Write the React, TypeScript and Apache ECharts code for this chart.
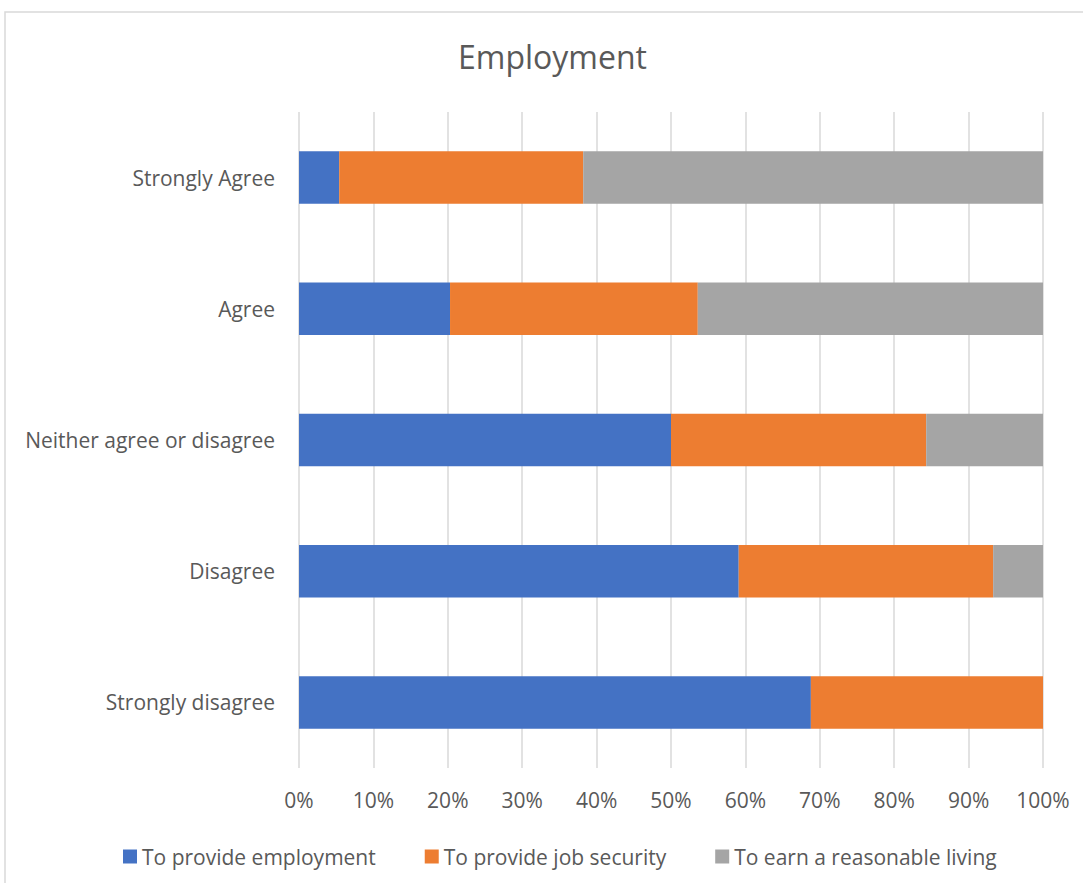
import React, { useEffect, useRef } from "react";
import * as echarts from "echarts";

const categories = ["Strongly disagree", "Disagree", "Neither agree or disagree", "Agree", "Strongly Agree"];
const provideEmployment = [68.8, 59.1, 50.0, 20.3, 5.4];
const provideJobSecurity = [31.2, 34.2, 34.3, 33.3, 32.8];
const earnLiving = [0, 6.7, 15.7, 46.4, 61.8];
const seriesNames = ["To provide employment", "To provide job security", "To earn a reasonable living"];
const colors = ["#4472C4", "#ED7D31", "#A5A5A5"];

const FONT = "Open Sans";
const TXT = "#595959";

export default function App() {
  const ref = useRef<HTMLDivElement>(null);
  useEffect(() => {
    if (!ref.current) return;
    const chart = echarts.init(ref.current, undefined, { renderer: "svg" });
    const values = [provideEmployment, provideJobSecurity, earnLiving];
    chart.setOption({
      animation: false,
      backgroundColor: "#fff",
      title: {
        text: "Employment",
        left: 458,
        top: 40,
        padding: 0,
        textStyle: { fontFamily: FONT, fontSize: 32, fontWeight: "normal", color: TXT },
      },
      graphic: [
        {
          type: "rect",
          shape: { x: 5, y: 12, width: 1200, height: 1000 },
          style: { fill: "none", stroke: "#d9d9d9", lineWidth: 1.5 },
          silent: true,
        },
      ],
      legend: {
        left: 123,
        top: 846,
        padding: 0,
        itemWidth: 14,
        itemHeight: 14,
        itemGap: 49,
        icon: "rect",
        textStyle: { fontFamily: FONT, fontSize: 21, color: TXT },
        data: seriesNames,
      },
      grid: { left: 299, right: 40, top: 112, bottom: 115, containLabel: false },
      xAxis: {
        type: "value",
        min: 0,
        max: 100,
        interval: 10,
        axisLine: { show: false },
        axisTick: { show: false },
        axisLabel: { formatter: "{value}%", fontFamily: FONT, fontSize: 21, color: TXT, margin: 21 },
        splitLine: { show: true, lineStyle: { color: "#d9d9d9", width: 1.5 } },
      },
      yAxis: {
        type: "category",
        data: categories,
        axisLine: { show: false },
        axisTick: { show: false },
        axisLabel: { fontFamily: FONT, fontSize: 21, color: TXT, margin: 24 },
      },
      series: seriesNames.map((name, i) => ({
        name,
        type: "bar",
        stack: "total",
        barWidth: "40%",
        itemStyle: { color: colors[i] },
        data: values[i],
      })),
    });
    return () => chart.dispose();
  }, []);
  return <div ref={ref} style={{ position: "fixed", left: 0, top: 0, width: 1083, height: 883 }} />;
}
